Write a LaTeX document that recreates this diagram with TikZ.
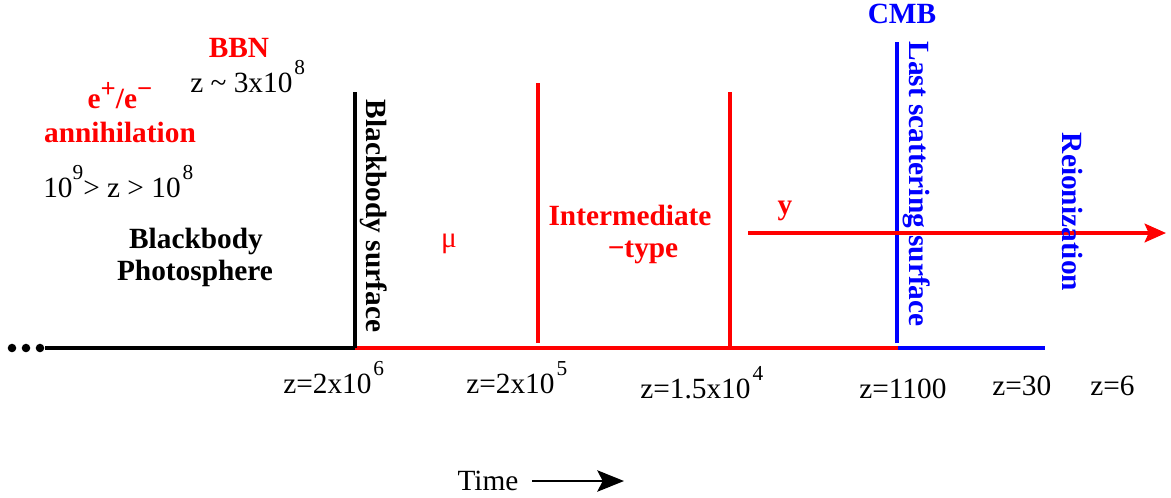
\documentclass[tikz,border=0pt]{standalone}
\usepackage{fontspec}
\setmainfont{LiberationSerif}[Extension=.ttf, UprightFont=*-Regular, BoldFont=*-Bold]
\usetikzlibrary{arrows.meta, positioning, calc}

\newcommand{\expo}[1]{\kern1.5pt\raisebox{13pt}{\fontsize{16}{16}\selectfont #1}}
\newcommand{\charge}[1]{\raisebox{8pt}{\fontsize{20}{20}\selectfont #1}}

\begin{document}
\begin{tikzpicture}[
  x=0.75pt, y=-0.75pt,
  axis/.style={line width=3pt},
  lbl/.style={font=\fontsize{22}{24}\selectfont\bfseries, inner sep=0pt, anchor=base},
  zlbl/.style={font=\fontsize{22}{24}\selectfont, inner sep=0pt, anchor=base west},
  vlbl/.style={font=\fontsize{22}{24}\selectfont\bfseries, inner sep=0pt, rotate=-90},
]
\useasboundingbox (0,0) rectangle (1171,497);

% time axis
\coordinate (start) at (45,348);
\coordinate (zbb)   at (355,348);
\coordinate (zmu)   at (538,343);
\coordinate (zint)  at (730,348);
\coordinate (zls)   at (898,348);
\coordinate (zend)  at (1045,348);
\coordinate (bbtop)  at (355,92);
\coordinate (mutop)  at (538,83);
\coordinate (inttop) at (730,92);
\coordinate (lstop)  at (897,42);
\coordinate (lsbot)  at (897,343);

\foreach \x in {12,26,40} \fill (\x,348) circle (3.2pt);
\draw[axis] (start) -- (zbb);
\draw[axis, red] (zbb) -- (zls);
\draw[axis, blue] (zls) -- (zend);

\draw[axis] (zbb) -- (bbtop);
\draw[axis, red] (zmu) -- (mutop);
\draw[axis, red] (zint) -- (inttop);
\draw[axis, blue] (lsbot) -- (lstop);

% y-type arrow
\coordinate (ystart) at (748,233);
\coordinate (yend)   at (1166,233);
\draw[red, line width=2.6pt, -{Stealth[length=16pt, width=14pt, inset=3pt]}] (ystart) -- (yend);

% labels above
\node[lbl, red] (bbn) at (239,57) {BBN};
\node[zlbl] (bbnz) at (190,92) {z \textasciitilde{} 3x10\expo{8}};
\node[lbl, red] (epem) at (120,108) {e\charge{+}/e\charge{\char"2212}};
\node[lbl, red] (ann) at (120,142) {annihilation};
\node[zlbl] (annz) at (43,197) {10\raisebox{13pt}{\fontsize{16}{16}\selectfont 9}> z > 10\expo{8}};
\node[lbl] (bbph1) at (196,248) {Blackbody};
\node[lbl] (bbph2) at (195,280) {Photosphere};
\node[vlbl] (bbsurf) at (374,216) {Blackbody surface};
\node[font=\fontsize{22}{24}\selectfont, red, inner sep=0pt, anchor=base] (mu) at (449,247) {μ};
\node[lbl, red] (inter1) at (630,225) {Intermediate};
\node[lbl, red] (inter2) at (643,257) {\char"2212 type};
\node[lbl, red] (ylbl) at (785,214) {y};
\node[lbl, blue] (cmb) at (902,23) {CMB};
\node[vlbl, blue] (lss) at (917,184) {Last scattering surface};
\node[vlbl, blue] (reion) at (1073,212) {Reionization};

% redshift marks
\node[zlbl] (z1) at (283,393) {z=2x10\expo{6}};
\node[zlbl] (z2) at (466,393) {z=2x10\expo{5}};
\node[zlbl] (z3) at (640,398) {z=1.5x10\expo{4}};
\node[zlbl] (z4) at (859,398) {z=1100};
\node[zlbl] (z5) at (992,395) {z=30};
\node[zlbl] (z6) at (1090,395) {z=6};

% time direction
\node[font=\fontsize{22}{24}\selectfont, inner sep=0pt, anchor=base] (time) at (488,490) {Time};
\coordinate (tend) at (624,481);
\draw[line width=1.6pt, -{Stealth[length=20pt, width=16pt, inset=4pt]}] ([xshift=10pt]time.east |- tend) -- (tend);
\end{tikzpicture}
\end{document}
